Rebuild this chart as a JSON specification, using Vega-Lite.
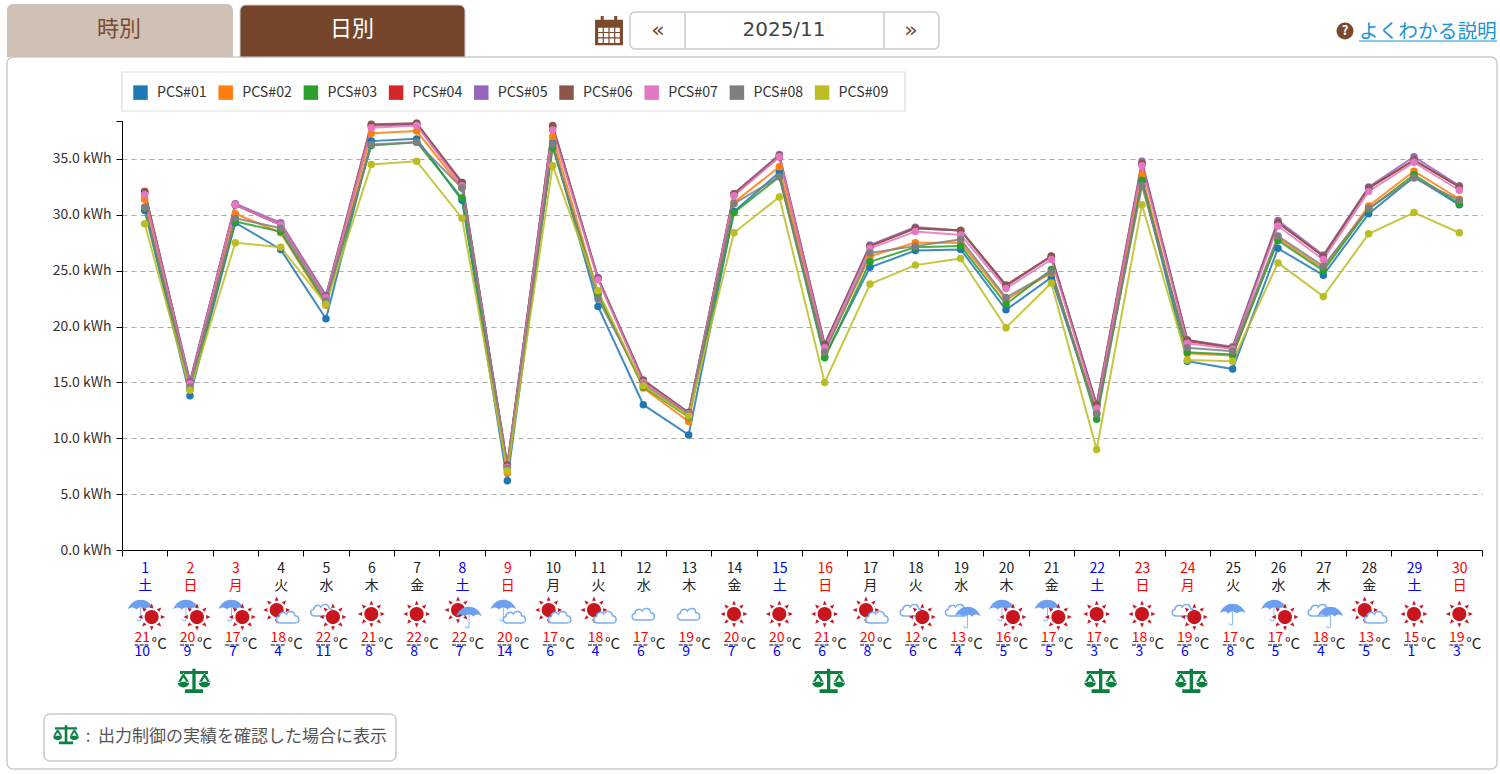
{"$schema":"https://vega.github.io/schema/vega-lite/v6.json","width":1360,"height":429,"autosize":"none","padding":{"left":122,"top":121,"right":18,"bottom":224},"background":"white","view":{"stroke":null},"config":{"font":"Noto Sans CJK JP"},
"datasets":{"one":[{"part":"ui"}],
"wx":[{"day":1,"wd":"土","high":21,"low":10},{"day":2,"wd":"日","high":20,"low":9,"limit":true},{"day":3,"wd":"月","high":17,"low":7},{"day":4,"wd":"火","high":18,"low":4},{"day":5,"wd":"水","high":22,"low":11},{"day":6,"wd":"木","high":21,"low":8},{"day":7,"wd":"金","high":22,"low":8},{"day":8,"wd":"土","high":22,"low":7},{"day":9,"wd":"日","high":20,"low":14},{"day":10,"wd":"月","high":17,"low":6},{"day":11,"wd":"火","high":18,"low":4},{"day":12,"wd":"水","high":17,"low":6},{"day":13,"wd":"木","high":19,"low":9},{"day":14,"wd":"金","high":20,"low":7},{"day":15,"wd":"土","high":20,"low":6},{"day":16,"wd":"日","high":21,"low":6,"limit":true},{"day":17,"wd":"月","high":20,"low":8},{"day":18,"wd":"火","high":12,"low":6},{"day":19,"wd":"水","high":13,"low":4},{"day":20,"wd":"木","high":16,"low":5},{"day":21,"wd":"金","high":17,"low":5},{"day":22,"wd":"土","high":17,"low":3,"limit":true},{"day":23,"wd":"日","high":18,"low":3},{"day":24,"wd":"月","high":19,"low":6,"limit":true},{"day":25,"wd":"火","high":17,"low":8},{"day":26,"wd":"水","high":17,"low":5},{"day":27,"wd":"木","high":18,"low":4},{"day":28,"wd":"金","high":13,"low":5},{"day":29,"wd":"土","high":15,"low":1},{"day":30,"wd":"日","high":19,"low":3}],
"icons":[{"day":1,"kind":"rain","slot":"first"},{"day":1,"kind":"sun","slot":"second"},{"day":2,"kind":"rain","slot":"first"},{"day":2,"kind":"sun","slot":"second"},{"day":3,"kind":"rain","slot":"first"},{"day":3,"kind":"sun","slot":"second"},{"day":4,"kind":"sun","slot":"first"},{"day":4,"kind":"cloud","slot":"second"},{"day":5,"kind":"cloud","slot":"first"},{"day":5,"kind":"sun","slot":"second"},{"day":6,"kind":"sun","slot":"single"},{"day":7,"kind":"sun","slot":"single"},{"day":8,"kind":"sun","slot":"first"},{"day":8,"kind":"rain","slot":"second"},{"day":9,"kind":"rain","slot":"first"},{"day":9,"kind":"cloud","slot":"second"},{"day":10,"kind":"sun","slot":"first"},{"day":10,"kind":"cloud","slot":"second"},{"day":11,"kind":"sun","slot":"first"},{"day":11,"kind":"cloud","slot":"second"},{"day":12,"kind":"cloud","slot":"single"},{"day":13,"kind":"cloud","slot":"single"},{"day":14,"kind":"sun","slot":"single"},{"day":15,"kind":"sun","slot":"single"},{"day":16,"kind":"sun","slot":"single"},{"day":17,"kind":"sun","slot":"first"},{"day":17,"kind":"cloud","slot":"second"},{"day":18,"kind":"cloud","slot":"first"},{"day":18,"kind":"sun","slot":"second"},{"day":19,"kind":"cloud","slot":"first"},{"day":19,"kind":"rain","slot":"second"},{"day":20,"kind":"rain","slot":"first"},{"day":20,"kind":"sun","slot":"second"},{"day":21,"kind":"rain","slot":"first"},{"day":21,"kind":"sun","slot":"second"},{"day":22,"kind":"sun","slot":"single"},{"day":23,"kind":"sun","slot":"single"},{"day":24,"kind":"cloud","slot":"first"},{"day":24,"kind":"sun","slot":"second"},{"day":25,"kind":"rain","slot":"single"},{"day":26,"kind":"rain","slot":"first"},{"day":26,"kind":"sun","slot":"second"},{"day":27,"kind":"cloud","slot":"first"},{"day":27,"kind":"rain","slot":"second"},{"day":28,"kind":"sun","slot":"first"},{"day":28,"kind":"cloud","slot":"second"},{"day":29,"kind":"sun","slot":"single"},{"day":30,"kind":"sun","slot":"single"}],
"gen":[
{"day":1,"pcs":"PCS#01","kwh":30.4},{"day":1,"pcs":"PCS#02","kwh":31.4},{"day":1,"pcs":"PCS#03","kwh":30.6},{"day":1,"pcs":"PCS#04","kwh":32.1},{"day":1,"pcs":"PCS#05","kwh":32.0},{"day":1,"pcs":"PCS#06","kwh":32.1},{"day":1,"pcs":"PCS#07","kwh":31.8},{"day":1,"pcs":"PCS#08","kwh":30.7},{"day":1,"pcs":"PCS#09","kwh":29.2},
{"day":2,"pcs":"PCS#01","kwh":13.8},{"day":2,"pcs":"PCS#02","kwh":14.4},{"day":2,"pcs":"PCS#03","kwh":14.4},{"day":2,"pcs":"PCS#04","kwh":15.0},{"day":2,"pcs":"PCS#05","kwh":15.1},{"day":2,"pcs":"PCS#06","kwh":15.0},{"day":2,"pcs":"PCS#07","kwh":14.9},{"day":2,"pcs":"PCS#08","kwh":14.6},{"day":2,"pcs":"PCS#09","kwh":14.3},
{"day":3,"pcs":"PCS#01","kwh":29.3},{"day":3,"pcs":"PCS#02","kwh":30.1},{"day":3,"pcs":"PCS#03","kwh":29.4},{"day":3,"pcs":"PCS#04","kwh":30.9},{"day":3,"pcs":"PCS#05","kwh":31.0},{"day":3,"pcs":"PCS#06","kwh":30.9},{"day":3,"pcs":"PCS#07","kwh":30.9},{"day":3,"pcs":"PCS#08","kwh":29.7},{"day":3,"pcs":"PCS#09","kwh":27.5},
{"day":4,"pcs":"PCS#01","kwh":26.9},{"day":4,"pcs":"PCS#02","kwh":28.4},{"day":4,"pcs":"PCS#03","kwh":28.5},{"day":4,"pcs":"PCS#04","kwh":29.1},{"day":4,"pcs":"PCS#05","kwh":29.3},{"day":4,"pcs":"PCS#06","kwh":29.1},{"day":4,"pcs":"PCS#07","kwh":29.1},{"day":4,"pcs":"PCS#08","kwh":28.8},{"day":4,"pcs":"PCS#09","kwh":27.1},
{"day":5,"pcs":"PCS#01","kwh":20.7},{"day":5,"pcs":"PCS#02","kwh":21.9},{"day":5,"pcs":"PCS#03","kwh":22.1},{"day":5,"pcs":"PCS#04","kwh":22.6},{"day":5,"pcs":"PCS#05","kwh":22.8},{"day":5,"pcs":"PCS#06","kwh":22.7},{"day":5,"pcs":"PCS#07","kwh":22.6},{"day":5,"pcs":"PCS#08","kwh":22.3},{"day":5,"pcs":"PCS#09","kwh":22.0},
{"day":6,"pcs":"PCS#01","kwh":36.6},{"day":6,"pcs":"PCS#02","kwh":37.3},{"day":6,"pcs":"PCS#03","kwh":36.2},{"day":6,"pcs":"PCS#04","kwh":38.0},{"day":6,"pcs":"PCS#05","kwh":38.0},{"day":6,"pcs":"PCS#06","kwh":38.1},{"day":6,"pcs":"PCS#07","kwh":37.8},{"day":6,"pcs":"PCS#08","kwh":36.3},{"day":6,"pcs":"PCS#09","kwh":34.5},
{"day":7,"pcs":"PCS#01","kwh":36.8},{"day":7,"pcs":"PCS#02","kwh":37.5},{"day":7,"pcs":"PCS#03","kwh":36.5},{"day":7,"pcs":"PCS#04","kwh":38.1},{"day":7,"pcs":"PCS#05","kwh":38.2},{"day":7,"pcs":"PCS#06","kwh":38.2},{"day":7,"pcs":"PCS#07","kwh":38.0},{"day":7,"pcs":"PCS#08","kwh":36.5},{"day":7,"pcs":"PCS#09","kwh":34.8},
{"day":8,"pcs":"PCS#01","kwh":31.3},{"day":8,"pcs":"PCS#02","kwh":32.4},{"day":8,"pcs":"PCS#03","kwh":31.5},{"day":8,"pcs":"PCS#04","kwh":32.8},{"day":8,"pcs":"PCS#05","kwh":32.9},{"day":8,"pcs":"PCS#06","kwh":32.9},{"day":8,"pcs":"PCS#07","kwh":32.6},{"day":8,"pcs":"PCS#08","kwh":32.4},{"day":8,"pcs":"PCS#09","kwh":29.7},
{"day":9,"pcs":"PCS#01","kwh":6.2},{"day":9,"pcs":"PCS#02","kwh":6.9},{"day":9,"pcs":"PCS#03","kwh":7.3},{"day":9,"pcs":"PCS#04","kwh":7.5},{"day":9,"pcs":"PCS#05","kwh":7.6},{"day":9,"pcs":"PCS#06","kwh":7.6},{"day":9,"pcs":"PCS#07","kwh":7.4},{"day":9,"pcs":"PCS#08","kwh":7.3},{"day":9,"pcs":"PCS#09","kwh":7.1},
{"day":10,"pcs":"PCS#01","kwh":36.4},{"day":10,"pcs":"PCS#02","kwh":37.0},{"day":10,"pcs":"PCS#03","kwh":36.0},{"day":10,"pcs":"PCS#04","kwh":37.9},{"day":10,"pcs":"PCS#05","kwh":37.9},{"day":10,"pcs":"PCS#06","kwh":38.0},{"day":10,"pcs":"PCS#07","kwh":37.6},{"day":10,"pcs":"PCS#08","kwh":36.3},{"day":10,"pcs":"PCS#09","kwh":34.4},
{"day":11,"pcs":"PCS#01","kwh":21.8},{"day":11,"pcs":"PCS#02","kwh":23.0},{"day":11,"pcs":"PCS#03","kwh":22.9},{"day":11,"pcs":"PCS#04","kwh":24.3},{"day":11,"pcs":"PCS#05","kwh":24.4},{"day":11,"pcs":"PCS#06","kwh":24.3},{"day":11,"pcs":"PCS#07","kwh":24.2},{"day":11,"pcs":"PCS#08","kwh":22.5},{"day":11,"pcs":"PCS#09","kwh":23.2},
{"day":12,"pcs":"PCS#01","kwh":13.0},{"day":12,"pcs":"PCS#02","kwh":14.5},{"day":12,"pcs":"PCS#03","kwh":14.6},{"day":12,"pcs":"PCS#04","kwh":15.1},{"day":12,"pcs":"PCS#05","kwh":15.2},{"day":12,"pcs":"PCS#06","kwh":15.2},{"day":12,"pcs":"PCS#07","kwh":15.0},{"day":12,"pcs":"PCS#08","kwh":14.8},{"day":12,"pcs":"PCS#09","kwh":14.7},
{"day":13,"pcs":"PCS#01","kwh":10.3},{"day":13,"pcs":"PCS#02","kwh":11.5},{"day":13,"pcs":"PCS#03","kwh":11.9},{"day":13,"pcs":"PCS#04","kwh":12.2},{"day":13,"pcs":"PCS#05","kwh":12.3},{"day":13,"pcs":"PCS#06","kwh":12.3},{"day":13,"pcs":"PCS#07","kwh":12.2},{"day":13,"pcs":"PCS#08","kwh":12.1},{"day":13,"pcs":"PCS#09","kwh":12.0},
{"day":14,"pcs":"PCS#01","kwh":30.3},{"day":14,"pcs":"PCS#02","kwh":31.1},{"day":14,"pcs":"PCS#03","kwh":30.2},{"day":14,"pcs":"PCS#04","kwh":31.8},{"day":14,"pcs":"PCS#05","kwh":31.9},{"day":14,"pcs":"PCS#06","kwh":31.9},{"day":14,"pcs":"PCS#07","kwh":31.7},{"day":14,"pcs":"PCS#08","kwh":31.0},{"day":14,"pcs":"PCS#09","kwh":28.4},
{"day":15,"pcs":"PCS#01","kwh":33.8},{"day":15,"pcs":"PCS#02","kwh":34.3},{"day":15,"pcs":"PCS#03","kwh":33.4},{"day":15,"pcs":"PCS#04","kwh":35.2},{"day":15,"pcs":"PCS#05","kwh":35.4},{"day":15,"pcs":"PCS#06","kwh":35.3},{"day":15,"pcs":"PCS#07","kwh":35.2},{"day":15,"pcs":"PCS#08","kwh":33.4},{"day":15,"pcs":"PCS#09","kwh":31.6},
{"day":16,"pcs":"PCS#01","kwh":17.3},{"day":16,"pcs":"PCS#02","kwh":17.8},{"day":16,"pcs":"PCS#03","kwh":17.2},{"day":16,"pcs":"PCS#04","kwh":18.3},{"day":16,"pcs":"PCS#05","kwh":18.4},{"day":16,"pcs":"PCS#06","kwh":18.4},{"day":16,"pcs":"PCS#07","kwh":18.1},{"day":16,"pcs":"PCS#08","kwh":17.7},{"day":16,"pcs":"PCS#09","kwh":15.0},
{"day":17,"pcs":"PCS#01","kwh":25.3},{"day":17,"pcs":"PCS#02","kwh":26.3},{"day":17,"pcs":"PCS#03","kwh":25.8},{"day":17,"pcs":"PCS#04","kwh":27.2},{"day":17,"pcs":"PCS#05","kwh":27.3},{"day":17,"pcs":"PCS#06","kwh":27.2},{"day":17,"pcs":"PCS#07","kwh":27.0},{"day":17,"pcs":"PCS#08","kwh":26.6},{"day":17,"pcs":"PCS#09","kwh":23.8},
{"day":18,"pcs":"PCS#01","kwh":26.8},{"day":18,"pcs":"PCS#02","kwh":27.5},{"day":18,"pcs":"PCS#03","kwh":27.1},{"day":18,"pcs":"PCS#04","kwh":28.8},{"day":18,"pcs":"PCS#05","kwh":28.9},{"day":18,"pcs":"PCS#06","kwh":28.8},{"day":18,"pcs":"PCS#07","kwh":28.5},{"day":18,"pcs":"PCS#08","kwh":27.2},{"day":18,"pcs":"PCS#09","kwh":25.5},
{"day":19,"pcs":"PCS#01","kwh":26.9},{"day":19,"pcs":"PCS#02","kwh":27.5},{"day":19,"pcs":"PCS#03","kwh":27.2},{"day":19,"pcs":"PCS#04","kwh":28.6},{"day":19,"pcs":"PCS#05","kwh":28.6},{"day":19,"pcs":"PCS#06","kwh":28.6},{"day":19,"pcs":"PCS#07","kwh":28.2},{"day":19,"pcs":"PCS#08","kwh":27.8},{"day":19,"pcs":"PCS#09","kwh":26.1},
{"day":20,"pcs":"PCS#01","kwh":21.5},{"day":20,"pcs":"PCS#02","kwh":22.4},{"day":20,"pcs":"PCS#03","kwh":22.0},{"day":20,"pcs":"PCS#04","kwh":23.7},{"day":20,"pcs":"PCS#05","kwh":23.6},{"day":20,"pcs":"PCS#06","kwh":23.7},{"day":20,"pcs":"PCS#07","kwh":23.4},{"day":20,"pcs":"PCS#08","kwh":22.6},{"day":20,"pcs":"PCS#09","kwh":19.9},
{"day":21,"pcs":"PCS#01","kwh":24.4},{"day":21,"pcs":"PCS#02","kwh":24.8},{"day":21,"pcs":"PCS#03","kwh":25.1},{"day":21,"pcs":"PCS#04","kwh":26.3},{"day":21,"pcs":"PCS#05","kwh":26.3},{"day":21,"pcs":"PCS#06","kwh":26.3},{"day":21,"pcs":"PCS#07","kwh":26.0},{"day":21,"pcs":"PCS#08","kwh":24.9},{"day":21,"pcs":"PCS#09","kwh":23.9},
{"day":22,"pcs":"PCS#01","kwh":12.2},{"day":22,"pcs":"PCS#02","kwh":12.3},{"day":22,"pcs":"PCS#03","kwh":11.7},{"day":22,"pcs":"PCS#04","kwh":12.9},{"day":22,"pcs":"PCS#05","kwh":13.0},{"day":22,"pcs":"PCS#06","kwh":13.0},{"day":22,"pcs":"PCS#07","kwh":12.7},{"day":22,"pcs":"PCS#08","kwh":12.2},{"day":22,"pcs":"PCS#09","kwh":9.0},
{"day":23,"pcs":"PCS#01","kwh":33.0},{"day":23,"pcs":"PCS#02","kwh":33.6},{"day":23,"pcs":"PCS#03","kwh":33.1},{"day":23,"pcs":"PCS#04","kwh":34.6},{"day":23,"pcs":"PCS#05","kwh":34.8},{"day":23,"pcs":"PCS#06","kwh":34.6},{"day":23,"pcs":"PCS#07","kwh":34.4},{"day":23,"pcs":"PCS#08","kwh":32.6},{"day":23,"pcs":"PCS#09","kwh":30.9},
{"day":24,"pcs":"PCS#01","kwh":16.9},{"day":24,"pcs":"PCS#02","kwh":17.6},{"day":24,"pcs":"PCS#03","kwh":17.7},{"day":24,"pcs":"PCS#04","kwh":18.7},{"day":24,"pcs":"PCS#05","kwh":18.8},{"day":24,"pcs":"PCS#06","kwh":18.8},{"day":24,"pcs":"PCS#07","kwh":18.5},{"day":24,"pcs":"PCS#08","kwh":18.1},{"day":24,"pcs":"PCS#09","kwh":17.0},
{"day":25,"pcs":"PCS#01","kwh":16.2},{"day":25,"pcs":"PCS#02","kwh":17.4},{"day":25,"pcs":"PCS#03","kwh":17.5},{"day":25,"pcs":"PCS#04","kwh":18.1},{"day":25,"pcs":"PCS#05","kwh":18.2},{"day":25,"pcs":"PCS#06","kwh":18.1},{"day":25,"pcs":"PCS#07","kwh":18.0},{"day":25,"pcs":"PCS#08","kwh":17.8},{"day":25,"pcs":"PCS#09","kwh":16.9},
{"day":26,"pcs":"PCS#01","kwh":27.0},{"day":26,"pcs":"PCS#02","kwh":27.9},{"day":26,"pcs":"PCS#03","kwh":27.7},{"day":26,"pcs":"PCS#04","kwh":29.3},{"day":26,"pcs":"PCS#05","kwh":29.5},{"day":26,"pcs":"PCS#06","kwh":29.3},{"day":26,"pcs":"PCS#07","kwh":29.0},{"day":26,"pcs":"PCS#08","kwh":28.1},{"day":26,"pcs":"PCS#09","kwh":25.7},
{"day":27,"pcs":"PCS#01","kwh":24.6},{"day":27,"pcs":"PCS#02","kwh":25.2},{"day":27,"pcs":"PCS#03","kwh":25.0},{"day":27,"pcs":"PCS#04","kwh":26.3},{"day":27,"pcs":"PCS#05","kwh":26.4},{"day":27,"pcs":"PCS#06","kwh":26.3},{"day":27,"pcs":"PCS#07","kwh":26.0},{"day":27,"pcs":"PCS#08","kwh":25.4},{"day":27,"pcs":"PCS#09","kwh":22.7},
{"day":28,"pcs":"PCS#01","kwh":30.1},{"day":28,"pcs":"PCS#02","kwh":30.8},{"day":28,"pcs":"PCS#03","kwh":30.5},{"day":28,"pcs":"PCS#04","kwh":32.4},{"day":28,"pcs":"PCS#05","kwh":32.5},{"day":28,"pcs":"PCS#06","kwh":32.4},{"day":28,"pcs":"PCS#07","kwh":32.1},{"day":28,"pcs":"PCS#08","kwh":30.6},{"day":28,"pcs":"PCS#09","kwh":28.3},
{"day":29,"pcs":"PCS#01","kwh":33.4},{"day":29,"pcs":"PCS#02","kwh":33.9},{"day":29,"pcs":"PCS#03","kwh":33.6},{"day":29,"pcs":"PCS#04","kwh":34.9},{"day":29,"pcs":"PCS#05","kwh":35.2},{"day":29,"pcs":"PCS#06","kwh":34.9},{"day":29,"pcs":"PCS#07","kwh":34.7},{"day":29,"pcs":"PCS#08","kwh":33.3},{"day":29,"pcs":"PCS#09","kwh":30.2},
{"day":30,"pcs":"PCS#01","kwh":30.9},{"day":30,"pcs":"PCS#02","kwh":31.4},{"day":30,"pcs":"PCS#03","kwh":31.0},{"day":30,"pcs":"PCS#04","kwh":32.5},{"day":30,"pcs":"PCS#05","kwh":32.6},{"day":30,"pcs":"PCS#06","kwh":32.5},{"day":30,"pcs":"PCS#07","kwh":32.2},{"day":30,"pcs":"PCS#08","kwh":31.3},{"day":30,"pcs":"PCS#09","kwh":28.4}
]},
"layer":[
{"data":{"name":"gen"},"mark":{"type":"line","strokeWidth":2,"strokeOpacity":0.85,"clip":false},"encoding":{
"x":{"field":"day","type":"ordinal","scale":{"type":"band","domain":[1,2,3,4,5,6,7,8,9,10,11,12,13,14,15,16,17,18,19,20,21,22,23,24,25,26,27,28,29,30],"paddingInner":0,"paddingOuter":0},"title":null,
"axis":{"domainColor":"#000","tickColor":"#000","tickSize":6,"tickBand":"extent","labelAngle":0,"labelFontSize":14,"labelPadding":5,"labelLineHeight":17,"labelOverlap":false,"labelBound":false,"labelFont":"Noto Sans CJK JP","labelExpr":"[datum.label, split('土,日,月,火,水,木,金,土,日,月,火,水,木,金,土,日,月,火,水,木,金,土,日,月,火,水,木,金,土,日',',')[datum.value-1]]","labelColor":{"condition":[{"test":"indexof([1,8,15,22,29],datum.value)>=0","value":"#0000ff"},{"test":"indexof([2,3,9,16,23,24,30],datum.value)>=0","value":"#ff0000"}],"value":"#222222"}}},
"y":{"field":"kwh","type":"quantitative","scale":{"domain":[0,38.4],"nice":false,"zero":false},"title":null,
"axis":{"values":[0,5,10,15,20,25,30,35,38.4],"labelExpr":"datum.value>38?'':format(datum.value,'.1f')+' kWh'","labelFontSize":14,"labelColor":"#333333","labelPadding":5,"labelFont":"Noto Sans CJK JP","domainColor":"#000","tickColor":"#000","tickSize":6,"grid":true,"gridColor":"#aaaaaa","gridWidth":1.2,"gridDash":[5,4],"gridOpacity":{"condition":{"test":"datum.value>38||datum.value==0","value":0},"value":1}}},
"stroke":{"field":"pcs","type":"nominal","legend":null,"scale":{"range":["#1f77b4","#ff7f0e","#2ca02c","#d62728","#9467bd","#8c564b","#e377c2","#7f7f7f","#bcbd22"]}}}},
{"data":{"name":"gen"},"mark":{"type":"point","filled":true,"size":56,"opacity":1,"clip":false},"encoding":{"x":{"field":"day","type":"ordinal"},"y":{"field":"kwh","type":"quantitative"},
"color":{"field":"pcs","type":"nominal","scale":{"domain":["PCS#01","PCS#02","PCS#03","PCS#04","PCS#05","PCS#06","PCS#07","PCS#08","PCS#09"],"range":["#1f77b4","#ff7f0e","#2ca02c","#d62728","#9467bd","#8c564b","#e377c2","#7f7f7f","#bcbd22"]},"legend":{"orient":"none","legendX":0,"legendY":-47,"direction":"horizontal","columns":9,"title":null,"symbolType":"square","symbolSize":210,"symbolStrokeWidth":0,"labelFontSize":14.2,"labelColor":"#333333","labelFont":"Noto Sans CJK JP","labelOffset":9,"columnPadding":11.2,"padding":11}}}},
{"data":{"name":"one"},"mark":{"type":"rect","fill":"transparent","stroke":"#dddddd","strokeWidth":1.2},"encoding":{"x":{"value":0},"x2":{"value":783},"y":{"value":-49},"y2":{"value":-10}}},
{"data":{"name":"wx"},"mark":{"type":"text","fontSize":14,"color":"#ff0000","baseline":"middle","xOffset":-2.5},"encoding":{"x":{"field":"day","type":"ordinal"},"y":{"value":517},"text":{"field":"high"}}},
{"data":{"name":"wx"},"mark":{"type":"text","fontSize":14,"color":"#0000ff","baseline":"middle","xOffset":-2.5},"encoding":{"x":{"field":"day","type":"ordinal"},"y":{"value":531},"text":{"field":"low"}}},
{"data":{"name":"wx"},"mark":{"type":"point","shape":"M-1,0H1","size":225,"filled":false,"stroke":"#000","strokeWidth":1,"strokeDash":[4,1],"opacity":1,"xOffset":-2.5},"encoding":{"x":{"field":"day","type":"ordinal"},"y":{"value":524}}},
{"data":{"name":"wx"},"mark":{"type":"text","text":"°C","fontSize":15,"color":"#222222","baseline":"middle","xOffset":14.5},"encoding":{"x":{"field":"day","type":"ordinal"},"y":{"value":523}}},
{"data":{"name":"icons"},"transform":[{"filter":"datum.slot=='single'"}],"mark":{"type":"point","filled":true,"opacity":1},"encoding":{"x":{"field":"day","type":"ordinal"},"y":{"value":493},
"shape":{"field":"kind","type":"nominal","legend":null,"scale":{"domain":["sun","rain","cloud"],"range":["M0.52,0A0.52,0.52 0 1,1 -0.52,0A0.52,0.52 0 1,1 0.52,0ZM-0.14,-0.68L0,-1L0.14,-0.68ZM-0.14,0.68L0,1L0.14,0.68ZM0.68,-0.14L1,0L0.68,0.14ZM-0.68,-0.14L-1,0L-0.68,0.14ZM0.38,-0.58L0.71,-0.71L0.58,-0.38ZM-0.38,-0.58L-0.71,-0.71L-0.58,-0.38ZM0.38,0.58L0.71,0.71L0.58,0.38ZM-0.38,0.58L-0.71,0.71L-0.58,0.38Z","M-1,-0.05C-0.85,-0.55 -0.4,-0.8 0,-0.8C0.4,-0.8 0.85,-0.55 1,-0.05C0.75,-0.25 0.5,-0.25 0.33,-0.02C0.2,-0.25 -0.2,-0.25 -0.33,-0.02C-0.5,-0.25 -0.75,-0.25 -1,-0.05ZM-0.03,-0.15H0.03V0.72C0.03,0.95 -0.3,0.95 -0.32,0.7H-0.26C-0.24,0.87 -0.03,0.87 -0.03,0.72Z","M-0.6,0.5C-1,0.5 -1.05,0 -0.7,-0.05C-0.7,-0.4 -0.25,-0.5 -0.1,-0.25C0.1,-0.6 0.6,-0.5 0.6,-0.1C1,-0.1 1.05,0.5 0.65,0.5Z"]}},
"size":{"field":"kind","type":"nominal","legend":null,"scale":{"domain":["sun","rain","cloud"],"range":[729,576,576]}},
"fill":{"condition":[{"test":"datum.kind=='sun'","value":"#c9151e"},{"test":"datum.kind=='rain'","value":"#6c9ff0"}],"value":"#ffffff"},
"stroke":{"condition":{"test":"datum.kind=='cloud'","value":"#7aaef5"},"value":null},"strokeWidth":{"value":1.5}}},
{"data":{"name":"icons"},"transform":[{"filter":"datum.slot=='first'"}],"mark":{"type":"point","filled":true,"opacity":1,"xOffset":-4},"encoding":{"x":{"field":"day","type":"ordinal"},"y":{"value":489},"shape":{"field":"kind","type":"nominal","legend":null},"size":{"field":"kind","type":"nominal","legend":null},
"fill":{"condition":[{"test":"datum.kind=='sun'","value":"#c9151e"},{"test":"datum.kind=='rain'","value":"#6c9ff0"}],"value":"#ffffff"},
"stroke":{"condition":{"test":"datum.kind=='cloud'","value":"#7aaef5"},"value":null},"strokeWidth":{"value":1.5}}},
{"data":{"name":"icons"},"transform":[{"filter":"datum.slot=='second'"}],"mark":{"type":"point","filled":true,"opacity":1,"xOffset":7},"encoding":{"x":{"field":"day","type":"ordinal"},"y":{"value":496},"shape":{"field":"kind","type":"nominal","legend":null},"size":{"field":"kind","type":"nominal","legend":null},
"fill":{"condition":[{"test":"datum.kind=='sun'","value":"#c9151e"},{"test":"datum.kind=='rain'","value":"#6c9ff0"}],"value":"#ffffff"},
"stroke":{"condition":{"test":"datum.kind=='cloud'","value":"#7aaef5"},"value":null},"strokeWidth":{"value":1.5}}},
{"data":{"name":"wx"},"transform":[{"filter":"datum.limit==true"}],"mark":{"type":"point","filled":true,"opacity":1,"color":"#0a8040","size":1089,"xOffset":4,"shape":"M-0.85,-0.6H0.85V-0.42H-0.85ZM-0.1,-0.75H0.1V0.55H-0.1ZM-0.55,0.5H0.55V0.72H-0.55ZM-1,0.05H-0.28C-0.28,0.5 -1,0.5 -1,0.05ZM0.28,0.05H1C1,0.5 0.28,0.5 0.28,0.05ZM-0.64,-0.5L-1,0.1H-0.84L-0.64,-0.22L-0.44,0.1H-0.28ZM0.64,-0.5L0.28,0.1H0.44L0.64,-0.22L0.84,0.1H1Z"},"encoding":{"x":{"field":"day","type":"ordinal"},"y":{"value":560}}},
{"data":{"name":"one"},"mark":{"type":"rect","fill":"transparent","stroke":"#cccccc","strokeWidth":1.5,"cornerRadius":6},"encoding":{"x":{"value":-115},"x2":{"value":1375},"y":{"value":-64},"y2":{"value":648}}},
{"data":{"name":"one"},"mark":{"type":"rect","fill":"#d0c1b6","cornerRadiusTopLeft":6,"cornerRadiusTopRight":6},"encoding":{"x":{"value":-115},"x2":{"value":111},"y":{"value":-117},"y2":{"value":-64}}},
{"data":{"name":"one"},"mark":{"type":"rect","fill":"#76462c","stroke":"#cccccc","cornerRadiusTopLeft":6,"cornerRadiusTopRight":6},"encoding":{"x":{"value":118},"x2":{"value":343},"y":{"value":-116},"y2":{"value":-64}}},
{"data":{"name":"one"},"mark":{"type":"text","text":"時別","fontSize":22,"color":"#7b4b2e","baseline":"middle"},"encoding":{"x":{"value":-3},"y":{"value":-92}}},
{"data":{"name":"one"},"mark":{"type":"text","text":"日別","fontSize":22,"color":"#ffffff","baseline":"middle"},"encoding":{"x":{"value":230},"y":{"value":-92}}},
{"data":{"name":"one"},"mark":{"type":"point","filled":true,"opacity":1,"color":"#7b4a2c","size":900,"shape":"M-0.93,-0.75H0.93V0.95H-0.93ZM-0.72,-0.22V0.06H-0.42V-0.22ZM-0.34,-0.22V0.06H-0.04V-0.22ZM0.04,-0.22V0.06H0.34V-0.22ZM0.42,-0.22V0.06H0.72V-0.22ZM-0.72,0.14V0.42H-0.42V0.14ZM-0.34,0.14V0.42H-0.04V0.14ZM0.04,0.14V0.42H0.34V0.14ZM0.42,0.14V0.42H0.72V0.14ZM-0.72,0.5V0.8H-0.42V0.5ZM-0.34,0.5V0.8H-0.04V0.5ZM0.04,0.5V0.8H0.34V0.5ZM0.42,0.5V0.8H0.72V0.5ZM-0.55,-1H-0.35V-0.65H-0.55ZM0.35,-1H0.55V-0.65H0.35Z"},"encoding":{"x":{"value":487},"y":{"value":-90}}},
{"data":{"name":"one"},"mark":{"type":"rect","fill":"#ffffff","stroke":"#cccccc","strokeWidth":1.5,"cornerRadius":5},"encoding":{"x":{"value":508},"x2":{"value":817},"y":{"value":-109},"y2":{"value":-72}}},
{"data":{"name":"one"},"mark":{"type":"rule","stroke":"#cccccc","strokeWidth":1.5},"encoding":{"x":{"value":563},"y":{"value":-109},"y2":{"value":-72}}},
{"data":{"name":"one"},"mark":{"type":"rule","stroke":"#cccccc","strokeWidth":1.5},"encoding":{"x":{"value":762},"y":{"value":-109},"y2":{"value":-72}}},
{"data":{"name":"one"},"mark":{"type":"text","text":"«","fontSize":22,"font":"DejaVu Sans","color":"#7b4a2c","baseline":"middle"},"encoding":{"x":{"value":536},"y":{"value":-91}}},
{"data":{"name":"one"},"mark":{"type":"text","text":"2025/11","fontSize":20,"font":"DejaVu Sans","color":"#444444","baseline":"middle"},"encoding":{"x":{"value":662},"y":{"value":-91}}},
{"data":{"name":"one"},"mark":{"type":"text","text":"»","fontSize":22,"font":"DejaVu Sans","color":"#7b4a2c","baseline":"middle"},"encoding":{"x":{"value":789},"y":{"value":-91}}},
{"data":{"name":"one"},"mark":{"type":"point","shape":"circle","filled":true,"opacity":1,"color":"#7b4a2c","size":290},"encoding":{"x":{"value":1223},"y":{"value":-90}}},
{"data":{"name":"one"},"mark":{"type":"text","text":"?","fontSize":13,"fontWeight":"bold","color":"#ffffff","baseline":"middle"},"encoding":{"x":{"value":1223},"y":{"value":-90}}},
{"data":{"name":"one"},"mark":{"type":"text","text":"よくわかる説明","fontSize":19.7,"color":"#1b95d6","baseline":"middle","align":"left"},"encoding":{"x":{"value":1237},"y":{"value":-89.5}}},
{"data":{"name":"one"},"mark":{"type":"rule","stroke":"#1b95d6","strokeWidth":1.2},"encoding":{"x":{"value":1237},"x2":{"value":1375},"y":{"value":-80}}},
{"data":{"name":"one"},"mark":{"type":"rect","fill":"#ffffff","stroke":"#cccccc","strokeWidth":1.5,"cornerRadius":6},"encoding":{"x":{"value":-78},"x2":{"value":274},"y":{"value":593},"y2":{"value":640}}},
{"data":{"name":"one"},"mark":{"type":"point","filled":true,"opacity":1,"color":"#0a8040","size":676,"shape":"M-0.85,-0.6H0.85V-0.42H-0.85ZM-0.1,-0.75H0.1V0.55H-0.1ZM-0.55,0.5H0.55V0.72H-0.55ZM-1,0.05H-0.28C-0.28,0.5 -1,0.5 -1,0.05ZM0.28,0.05H1C1,0.5 0.28,0.5 0.28,0.05ZM-0.64,-0.5L-1,0.1H-0.84L-0.64,-0.22L-0.44,0.1H-0.28ZM0.64,-0.5L0.28,0.1H0.44L0.64,-0.22L0.84,0.1H1Z"},"encoding":{"x":{"value":-56},"y":{"value":614}}},
{"data":{"name":"one"},"mark":{"type":"text","text":":","fontSize":17,"color":"#555555","baseline":"middle"},"encoding":{"x":{"value":-34},"y":{"value":616}}},
{"data":{"name":"one"},"mark":{"type":"text","text":"出力制御の実績を確認した場合に表示","fontSize":17,"color":"#555555","baseline":"middle","align":"left"},"encoding":{"x":{"value":-24},"y":{"value":616}}}
]}
